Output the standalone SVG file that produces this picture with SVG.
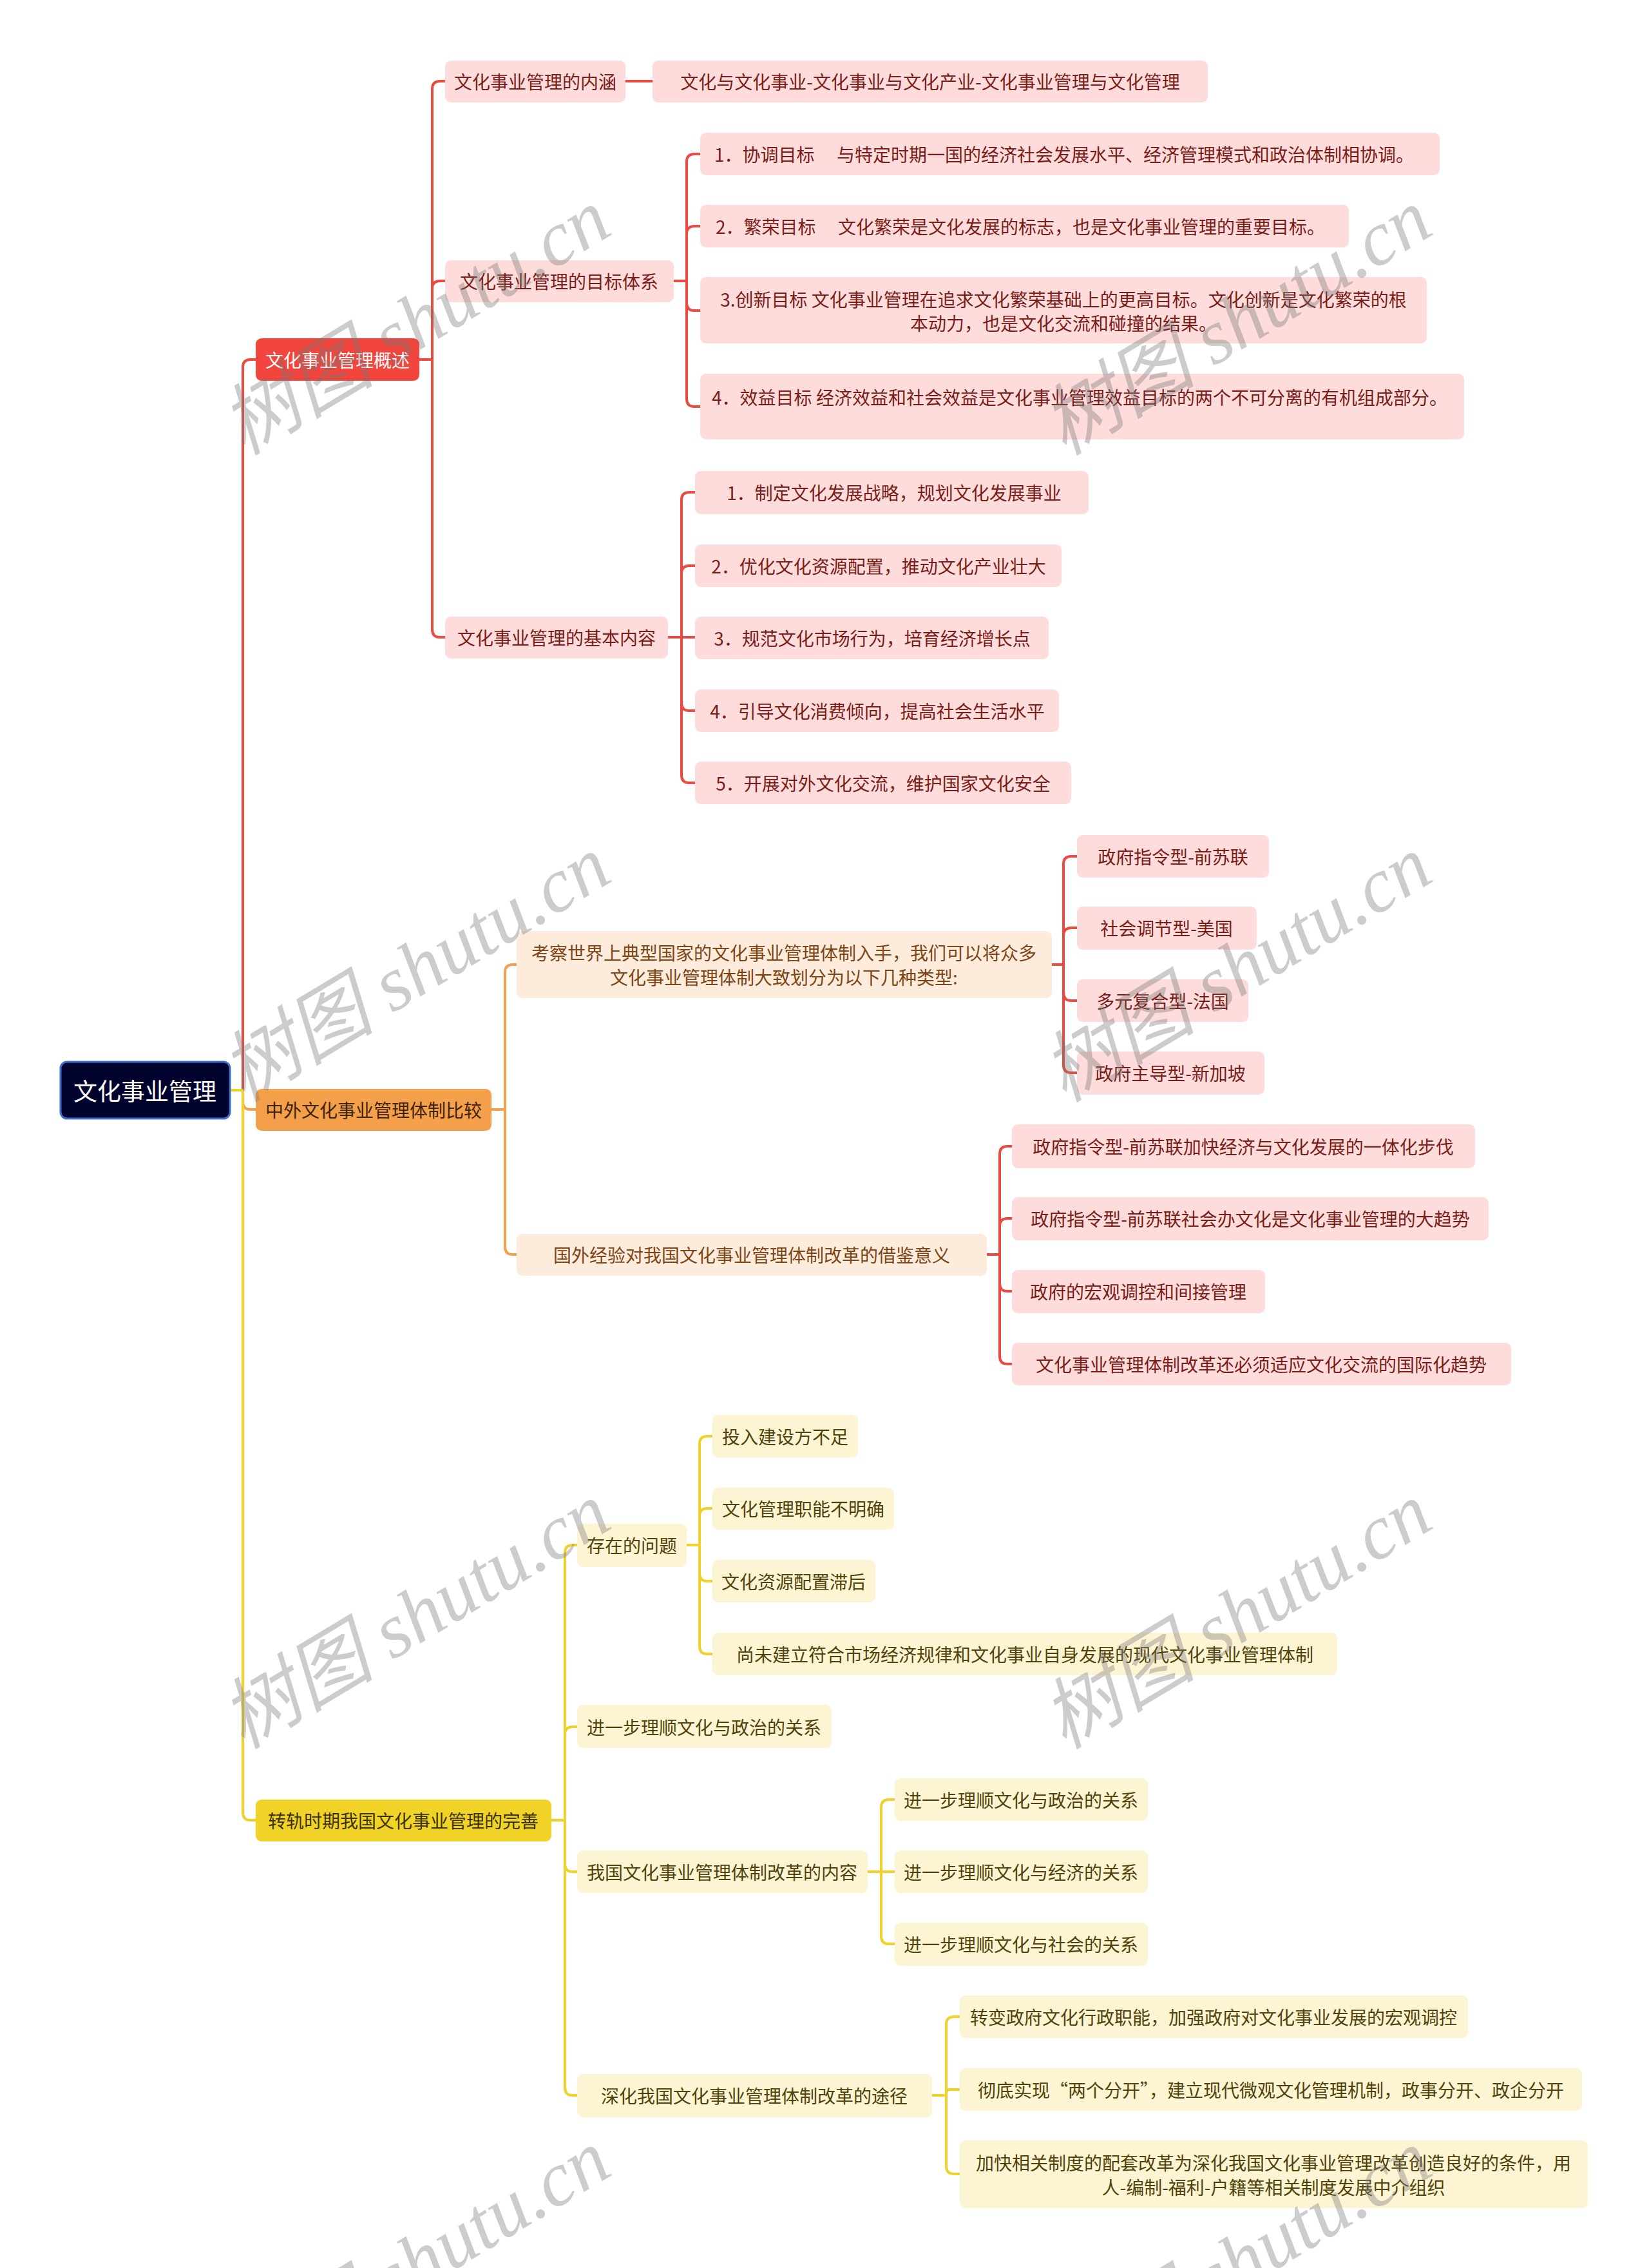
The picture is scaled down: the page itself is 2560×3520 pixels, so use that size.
<svg xmlns="http://www.w3.org/2000/svg" width="2560" height="3520" viewBox="0 0 2560 3520">
<style>
text{font-family:"Noto Sans CJK SC","Noto Sans",sans-serif;font-size:28px;text-anchor:middle;dominant-baseline:central}
.c{fill:none;stroke-width:4;stroke-linecap:round;stroke-linejoin:round}
.cr{stroke:#ea4a40}.co{stroke:#f2a050}.cy{stroke:#efd12a}
.root rect{fill:#02022e;stroke:#3c70c8;stroke-width:3}
.root text{fill:#ffffff;font-size:37px}
.l1r rect{fill:#f1453d}.l1r text{fill:#ffffff}
.l1o rect{fill:#f4a04b}.l1o text{fill:#3d2308}
.l1y rect{fill:#f1d327}.l1y text{fill:#3b3300}
.nr rect{fill:#fddcdb}.nr text{fill:#7a1d18}
.no rect{fill:#fdecdc}.no text{fill:#7d4515}
.ny rect{fill:#fdf4d3}.ny text{fill:#4f430a}
.wm text{font-family:"Liberation Serif","Noto Sans CJK SC",serif;font-style:italic;font-size:120px;fill:#7a7a7a;fill-opacity:0.38}
</style>

<g id="connectors">
  <path class="c cr" d="M357,1692 H377 V570 Q377,558 389,558 H397"/>
  <path class="c co" d="M357,1692 H377 V1710 Q377,1722 389,1722 H397"/>
  <path class="c cy" d="M357,1692 H377 V2813 Q377,2825 389,2825 H397"/>
  <path class="c cr" d="M651,558 H671 V138 Q671,126 683,126 H691"/>
  <path class="c cr" d="M651,558 H671 V448 Q671,436 683,436 H691"/>
  <path class="c cr" d="M651,558 H671 V977 Q671,989 683,989 H691"/>
  <path class="c cr" d="M971,126 H1013"/>
  <path class="c cr" d="M1046,436 H1066 V251 Q1066,239 1078,239 H1087"/>
  <path class="c cr" d="M1046,436 H1066 V363 Q1066,351 1078,351 H1087"/>
  <path class="c cr" d="M1046,436 H1066 V470 Q1066,482 1078,482 H1087"/>
  <path class="c cr" d="M1046,436 H1066 V619 Q1066,631 1078,631 H1087"/>
  <path class="c cr" d="M1037,989 H1058 V776 Q1058,764 1070,764 H1079"/>
  <path class="c cr" d="M1037,989 H1058 V890 Q1058,878 1070,878 H1079"/>
  <path class="c cr" d="M1037,989 H1079"/>
  <path class="c cr" d="M1037,989 H1058 V1091 Q1058,1103 1070,1103 H1079"/>
  <path class="c cr" d="M1037,989 H1058 V1203 Q1058,1215 1070,1215 H1079"/>
  <path class="c co" d="M763,1722 H784 V1509 Q784,1497 796,1497 H802"/>
  <path class="c co" d="M763,1722 H784 V1935 Q784,1947 796,1947 H802"/>
  <path class="c cr" d="M1633,1497 H1651 V1341 Q1651,1329 1663,1329 H1672"/>
  <path class="c cr" d="M1633,1497 H1651 V1452 Q1651,1440 1663,1440 H1672"/>
  <path class="c cr" d="M1633,1497 H1651 V1541 Q1651,1553 1663,1553 H1672"/>
  <path class="c cr" d="M1633,1497 H1651 V1653 Q1651,1665 1663,1665 H1672"/>
  <path class="c cr" d="M1532,1947 H1552 V1791 Q1552,1779 1564,1779 H1571"/>
  <path class="c cr" d="M1532,1947 H1552 V1903 Q1552,1891 1564,1891 H1571"/>
  <path class="c cr" d="M1532,1947 H1552 V1992 Q1552,2004 1564,2004 H1571"/>
  <path class="c cr" d="M1532,1947 H1552 V2105 Q1552,2117 1564,2117 H1571"/>
  <path class="c cy" d="M856,2825 H877 V2410 Q877,2398 889,2398 H896"/>
  <path class="c cy" d="M856,2825 H877 V2692 Q877,2680 889,2680 H896"/>
  <path class="c cy" d="M856,2825 H877 V2893 Q877,2905 889,2905 H896"/>
  <path class="c cy" d="M856,2825 H877 V3240 Q877,3252 889,3252 H896"/>
  <path class="c cy" d="M1066,2398 H1086 V2241 Q1086,2229 1098,2229 H1106"/>
  <path class="c cy" d="M1066,2398 H1086 V2353 Q1086,2341 1098,2341 H1106"/>
  <path class="c cy" d="M1066,2398 H1086 V2442 Q1086,2454 1098,2454 H1106"/>
  <path class="c cy" d="M1066,2398 H1086 V2555 Q1086,2567 1098,2567 H1106"/>
  <path class="c cy" d="M1347,2905 H1368 V2805 Q1368,2793 1380,2793 H1389"/>
  <path class="c cy" d="M1347,2905 H1389"/>
  <path class="c cy" d="M1347,2905 H1368 V3005 Q1368,3017 1380,3017 H1389"/>
  <path class="c cy" d="M1447,3252 H1469 V3142 Q1469,3130 1481,3130 H1490"/>
  <path class="c cy" d="M1447,3252 H1469 V3249 Q1469,3243 1475,3243 H1490"/>
  <path class="c cy" d="M1447,3252 H1469 V3362 Q1469,3374 1481,3374 H1490"/>
</g>

<g id="root" class="root"><rect x="94" y="1648" width="263" height="88" rx="10"/><text x="225" y="1692">文化事业管理</text></g>

<g id="n-gaishu" class="l1r"><rect x="397" y="525" width="254" height="66" rx="9"/><text x="524" y="558">文化事业管理概述</text></g>
<g id="n-zhongwai" class="l1o"><rect x="397" y="1690" width="366" height="65" rx="9"/><text x="580" y="1722">中外文化事业管理体制比较</text></g>
<g id="n-zhuangui" class="l1y"><rect x="397" y="2793" width="459" height="65" rx="9"/><text x="626" y="2825">转轨时期我国文化事业管理的完善</text></g>

<g id="n-neihan" class="nr"><rect x="691" y="94" width="280" height="65" rx="9"/><text x="831" y="126">文化事业管理的内涵</text></g>
<g id="n-neihan-1" class="nr"><rect x="1013" y="94" width="862" height="65" rx="9"/><text x="1444" y="126">文化与文化事业-文化事业与文化产业-文化事业管理与文化管理</text></g>

<g id="n-mubiao" class="nr"><rect x="691" y="404" width="355" height="65" rx="9"/><text x="868" y="436">文化事业管理的目标体系</text></g>
<g id="n-mubiao-1" class="nr"><rect x="1087" y="206" width="1148" height="66" rx="9"/><text x="1652" y="239">1．协调目标　 与特定时期一国的经济社会发展水平、经济管理模式和政治体制相协调。</text></g>
<g id="n-mubiao-2" class="nr"><rect x="1087" y="318" width="1007" height="66" rx="9"/><text x="1584" y="351">2．繁荣目标　 文化繁荣是文化发展的标志，也是文化事业管理的重要目标。</text></g>
<g id="n-mubiao-3" class="nr"><rect x="1087" y="430" width="1128" height="103" rx="9"/><text x="1651" y="464">3.创新目标 文化事业管理在追求文化繁荣基础上的更高目标。文化创新是文化繁荣的根</text><text x="1651" y="501">本动力，也是文化交流和碰撞的结果。</text></g>
<g id="n-mubiao-4" class="nr"><rect x="1087" y="580" width="1186" height="102" rx="9"/><text x="1676" y="616">4．效益目标 经济效益和社会效益是文化事业管理效益目标的两个不可分离的有机组成部分。</text></g>

<g id="n-neirong" class="nr"><rect x="691" y="957" width="346" height="65" rx="9"/><text x="864" y="989">文化事业管理的基本内容</text></g>
<g id="n-neirong-1" class="nr"><rect x="1079" y="731" width="611" height="67" rx="9"/><text x="1388" y="764">1．制定文化发展战略，规划文化发展事业</text></g>
<g id="n-neirong-2" class="nr"><rect x="1079" y="845" width="569" height="66" rx="9"/><text x="1364" y="878">2．优化文化资源配置，推动文化产业壮大</text></g>
<g id="n-neirong-3" class="nr"><rect x="1079" y="957" width="549" height="66" rx="9"/><text x="1354" y="990">3．规范文化市场行为，培育经济增长点</text></g>
<g id="n-neirong-4" class="nr"><rect x="1079" y="1070" width="565" height="66" rx="9"/><text x="1362" y="1103">4．引导文化消费倾向，提高社会生活水平</text></g>
<g id="n-neirong-5" class="nr"><rect x="1079" y="1182" width="584" height="66" rx="9"/><text x="1371" y="1215">5．开展对外文化交流，维护国家文化安全</text></g>

<g id="n-kaocha" class="no"><rect x="802" y="1445" width="831" height="104" rx="9"/><text x="1217" y="1478">考察世界上典型国家的文化事业管理体制入手，我们可以将众多</text><text x="1217" y="1516">文化事业管理体制大致划分为以下几种类型:</text></g>
<g id="n-kaocha-1" class="nr"><rect x="1672" y="1296" width="298" height="66" rx="9"/><text x="1821" y="1329">政府指令型-前苏联</text></g>
<g id="n-kaocha-2" class="nr"><rect x="1672" y="1407" width="279" height="67" rx="9"/><text x="1811" y="1440">社会调节型-美国</text></g>
<g id="n-kaocha-3" class="nr"><rect x="1672" y="1520" width="266" height="66" rx="9"/><text x="1805" y="1553">多元复合型-法国</text></g>
<g id="n-kaocha-4" class="nr"><rect x="1672" y="1632" width="291" height="67" rx="9"/><text x="1817" y="1665">政府主导型-新加坡</text></g>

<g id="n-guowai" class="no"><rect x="802" y="1915" width="730" height="65" rx="9"/><text x="1167" y="1947">国外经验对我国文化事业管理体制改革的借鉴意义</text></g>
<g id="n-guowai-1" class="nr"><rect x="1571" y="1745" width="719" height="68" rx="9"/><text x="1930" y="1779">政府指令型-前苏联加快经济与文化发展的一体化步伐</text></g>
<g id="n-guowai-2" class="nr"><rect x="1571" y="1858" width="740" height="67" rx="9"/><text x="1941" y="1891">政府指令型-前苏联社会办文化是文化事业管理的大趋势</text></g>
<g id="n-guowai-3" class="nr"><rect x="1571" y="1971" width="393" height="67" rx="9"/><text x="1767" y="2004">政府的宏观调控和间接管理</text></g>
<g id="n-guowai-4" class="nr"><rect x="1571" y="2084" width="775" height="66" rx="9"/><text x="1958" y="2117">文化事业管理体制改革还必须适应文化交流的国际化趋势</text></g>

<g id="n-wenti" class="ny"><rect x="896" y="2365" width="170" height="67" rx="9"/><text x="981" y="2398">存在的问题</text></g>
<g id="n-wenti-1" class="ny"><rect x="1106" y="2196" width="226" height="66" rx="9"/><text x="1219" y="2229">投入建设方不足</text></g>
<g id="n-wenti-2" class="ny"><rect x="1106" y="2309" width="282" height="65" rx="9"/><text x="1247" y="2341">文化管理职能不明确</text></g>
<g id="n-wenti-3" class="ny"><rect x="1106" y="2421" width="253" height="66" rx="9"/><text x="1232" y="2454">文化资源配置滞后</text></g>
<g id="n-wenti-4" class="ny"><rect x="1106" y="2534" width="970" height="66" rx="9"/><text x="1591" y="2567">尚未建立符合市场经济规律和文化事业自身发展的现代文化事业管理体制</text></g>

<g id="n-lishun" class="ny"><rect x="896" y="2646" width="395" height="67" rx="9"/><text x="1093" y="2680">进一步理顺文化与政治的关系</text></g>

<g id="n-gaige" class="ny"><rect x="896" y="2872" width="451" height="66" rx="9"/><text x="1121" y="2905">我国文化事业管理体制改革的内容</text></g>
<g id="n-gaige-1" class="ny"><rect x="1389" y="2760" width="393" height="66" rx="9"/><text x="1585" y="2793">进一步理顺文化与政治的关系</text></g>
<g id="n-gaige-2" class="ny"><rect x="1389" y="2872" width="393" height="66" rx="9"/><text x="1585" y="2905">进一步理顺文化与经济的关系</text></g>
<g id="n-gaige-3" class="ny"><rect x="1389" y="2984" width="393" height="67" rx="9"/><text x="1585" y="3017">进一步理顺文化与社会的关系</text></g>

<g id="n-tujing" class="ny"><rect x="896" y="3219" width="551" height="67" rx="9"/><text x="1171" y="3252">深化我国文化事业管理体制改革的途径</text></g>
<g id="n-tujing-1" class="ny"><rect x="1490" y="3097" width="789" height="66" rx="9"/><text x="1884" y="3130">转变政府文化行政职能，加强政府对文化事业发展的宏观调控</text></g>
<g id="n-tujing-2" class="ny"><rect x="1490" y="3210" width="966" height="66" rx="9"/><text x="1973" y="3243">彻底实现“两个分开”，建立现代微观文化管理机制，政事分开、政企分开</text></g>
<g id="n-tujing-3" class="ny"><rect x="1490" y="3322" width="975" height="105" rx="9"/><text x="1977" y="3356">加快相关制度的配套改革为深化我国文化事业管理改革创造良好的条件，用</text><text x="1977" y="3394">人-编制-福利-户籍等相关制度发展中介组织</text></g>

<g id="watermarks" class="wm">
  <text x="645" y="500" transform="rotate(-31 645 500)">树图 shutu.cn</text>
  <text x="1920" y="500" transform="rotate(-31 1920 500)">树图 shutu.cn</text>
  <text x="645" y="1504" transform="rotate(-31 645 1504)">树图 shutu.cn</text>
  <text x="1920" y="1504" transform="rotate(-31 1920 1504)">树图 shutu.cn</text>
  <text x="645" y="2508" transform="rotate(-31 645 2508)">树图 shutu.cn</text>
  <text x="1920" y="2508" transform="rotate(-31 1920 2508)">树图 shutu.cn</text>
  <text x="645" y="3512" transform="rotate(-31 645 3512)">树图 shutu.cn</text>
  <text x="1920" y="3512" transform="rotate(-31 1920 3512)">树图 shutu.cn</text>
</g>
</svg>
